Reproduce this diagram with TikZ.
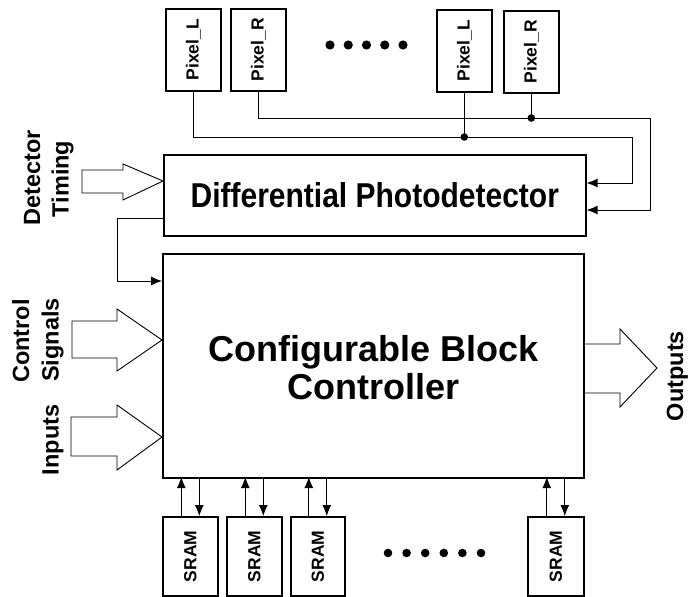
\documentclass[tikz,border=0pt]{standalone}
\usepackage{fontspec}
\setmainfont{Liberation Sans}
\usetikzlibrary{arrows.meta,calc}
\begin{document}
\begin{tikzpicture}[x=1pt,y=-1pt,
  box/.style={draw, line width=1.6pt, inner sep=0pt, anchor=north west},
  conn/.style={line width=0.9pt},
  arr/.style={conn, -{Latex[length=11pt,width=9pt]}},
  fat/.style={draw, line width=0.9pt, line join=miter},
  small/.style={font=\bfseries\fontsize{17.5}{18}\selectfont, rotate=90},
  side/.style={font=\bfseries\fontsize{23.5}{24}\selectfont, rotate=90, anchor=base},
]
\useasboundingbox (0,0) rectangle (689,597);

% pixel boxes
\node[box, minimum width=55pt, minimum height=82pt] (pl1) at (165,8) {};
\node[box, minimum width=55pt, minimum height=82pt] (pr1) at (230,8) {};
\node[box, minimum width=55pt, minimum height=82pt] (pl2) at (436,9) {};
\node[box, minimum width=55pt, minimum height=82pt] (pr2) at (503,10) {};
\node[small] at (pl1) {Pixel\_L};
\node[small] at (pr1) {Pixel\_R};
\node[small] at (pl2) {Pixel\_L};
\node[small] at (pr2) {Pixel\_R};
\foreach \i in {0,...,4} \fill (330+18.25*\i,45) circle (4.6pt);

% main blocks
\node[box, minimum width=422pt, minimum height=81pt] (diff) at (163,154) {};
\node[font=\bfseries\fontsize{30}{30}\selectfont, yscale=1.15] at (diff) {Differential Photodetector};
\node[box, minimum width=421pt, minimum height=224pt] (ctrl) at (162,253) {};
\node[font=\bfseries\fontsize{36}{38}\selectfont, align=center] at ($(ctrl)+(0,2)$) {Configurable Block\\Controller};

% SRAM boxes
\node[box, minimum width=55pt, minimum height=79pt] (s1) at (162,516) {};
\node[box, minimum width=55pt, minimum height=79pt] (s2) at (226,516) {};
\node[box, minimum width=54pt, minimum height=79pt] (s3) at (290,516) {};
\node[box, minimum width=56pt, minimum height=79pt] (s4) at (527,516) {};
\foreach \s in {s1,s2,s3,s4}{
  \node[small] at (\s) {SRAM};
  \draw[arr] ($(\s.north)+(-9,0)$) -- ++(0,-39);
  \draw[arr] ($(\s.north)+(9,-39)$) -- ($(\s.north)+(9,0)$);
}
\foreach \i in {0,...,5} \fill (388+18.6*\i,553) circle (4.3pt);

% pixel buses
\coordinate (jL) at (pl2.south |- 0,137);
\coordinate (jR) at (pr2.south |- 0,118);
\coordinate (cL) at (632,137);
\coordinate (cR) at (650,118);
\draw[arr] (pl1.south) |- (cL) |- (diff.east |- 0,183);
\draw[arr] (pr1.south) |- (cR) |- (diff.east |- 0,210);
\draw[conn] (pl2.south) -- (jL);
\draw[conn] (pr2.south) -- (jR);
\fill (jL) circle (3.8pt);
\fill (jR) circle (3.8pt);

% photodetector to controller
\coordinate (b1) at (117,218);
\coordinate (b2) at (117,281);
\draw[arr] (diff.west |- b1) -- (b1) -- (b2) -- (ctrl.west |- b2);

% block arrows
\draw[fat] (82,170) -- (123,170) -- (123,164) -- (163,181) -- (123,200) -- (123,193) -- (82,193) -- cycle;
\draw[fat] (72,321) -- (117,321) -- (117,309) -- (162,340) -- (117,371) -- (117,358) -- (72,358) -- cycle;
\draw[fat] (71,417) -- (117,417) -- (117,405) -- (162,437) -- (117,470) -- (117,456) -- (71,456) -- cycle;
\draw[fat] (583,344) -- (620,344) -- (620,329) -- (657,368) -- (620,407) -- (620,393) -- (583,393);

% side labels
\node[side] at (40,178) {Detector};
\node[side] at (68.5,179) {Timing};
\node[side] at (29,341) {Control};
\node[side] at (58.5,340) {Signals};
\node[side] at (58.5,440) {Inputs};
\node[side] at (683,376) {Outputs};
\end{tikzpicture}
\end{document}
